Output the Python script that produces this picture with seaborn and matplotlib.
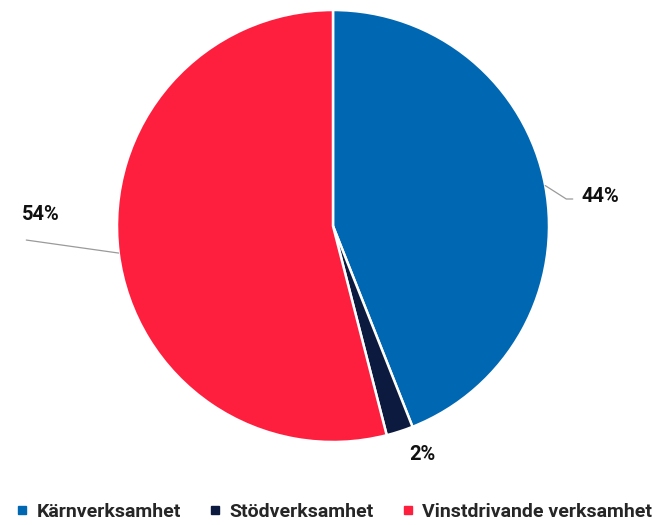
"""
Pie chart of activity split (Kärn / Stöd / Vinstdrivande verksamhet).

Output:
    out.png
"""

import numpy as np
import matplotlib
matplotlib.use("Agg")
import matplotlib.pyplot as plt
from matplotlib.lines import Line2D
import seaborn as sns


CATEGORIES = ["Kärnverksamhet", "Stödverksamhet", "Vinstdrivande verksamhet"]
SHARES = [44, 2, 54]
COLORS = ["#0067b2", "#0b1a3e", "#fe1f3f"]


def main() -> None:
    sns.set_theme(style="white")
    plt.rcParams["font.family"] = ["Roboto", "DejaVu Sans"]

    fig = plt.figure(figsize=(6.62, 5.25), dpi=100)
    ax = fig.add_axes([117 / 662, 83 / 525, 432 / 662, 432 / 525])

    wedges, _ = ax.pie(
        SHARES,
        colors=COLORS,
        startangle=90,
        counterclock=False,
        radius=1.0,
        wedgeprops=dict(edgecolor="white", linewidth=1.8),
    )
    ax.set_xlim(-1, 1)
    ax.set_ylim(-1, 1)
    ax.set_aspect("equal")

    # label positions (axes data units), with leader lines
    label_xy = [(1.15, 0.138), (0.355, -1.06), (-1.44, 0.055)]
    elbow_xy = [(1.11, 0.125), None, (-1.42, -0.065)]
    for wedge, share, lxy, exy in zip(wedges, SHARES, label_xy, elbow_xy):
        mid = np.deg2rad((wedge.theta1 + wedge.theta2) / 2)
        px, py = np.cos(mid), np.sin(mid)
        if exy is not None:
            if exy[0] > 0:
                ax.plot([px, exy[0] - 0.03, exy[0]], [py, exy[1], exy[1]],
                        color="#9a9a9a", lw=0.9, clip_on=False)
            else:
                ax.plot([px, exy[0]], [py, exy[1]],
                        color="#9a9a9a", lw=0.9, clip_on=False)
        ax.text(lxy[0], lxy[1], f"{share}%", ha="left", va="center",
                fontsize=14.5, fontweight="bold", color="#111111", clip_on=False)

    handles = [
        Line2D([0], [0], marker="s", linestyle="", markersize=5.5,
               markerfacecolor=c, markeredgecolor=c)
        for c in COLORS
    ]
    fig.legend(
        handles,
        CATEGORIES,
        loc="lower center",
        bbox_to_anchor=(0.505, -0.025),
        ncol=3,
        frameon=False,
        prop=dict(weight="bold", size=14),
        handlelength=0.6,
        handletextpad=0.45,
        columnspacing=1.45,
    )

    fig.savefig("out.png", dpi=100)
    plt.close(fig)


if __name__ == "__main__":
    main()
